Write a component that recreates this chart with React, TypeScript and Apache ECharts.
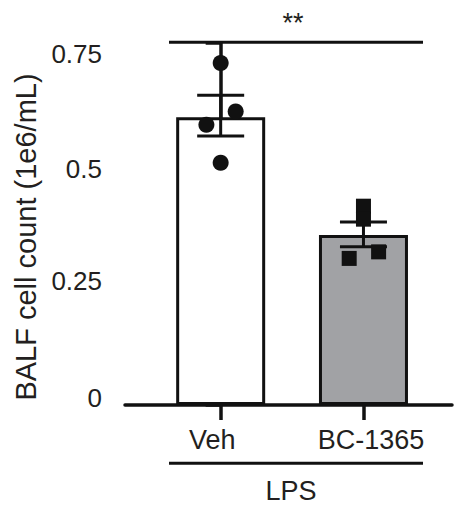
import React, { useEffect, useRef } from "react";
import * as echarts from "echarts";

// ---- data ----
const categories = ["Veh", "BC-1365"];
const groupLabel = "LPS";
const sigLabel = "**";
const yTitle = "BALF cell count (1e6/mL)";
const yTickLabels = ["0", "0.25", "0.5", "0.75"];
const barMeans = [0.596, 0.352];
const errLow = [0.5575, 0.3277];
const errHigh = [0.6417, 0.3794];
// [x position (category index + jitter), value]
const vehPoints = [
  [0, 0.7085],
  [0.105, 0.6081],
  [-0.1, 0.5806],
  [0, 0.5019],
];
const bcPoints = [
  [1, 0.4119],
  [1, 0.385],
  [0.9, 0.3037],
  [1.106, 0.3173],
];

// ---- style ----
const FONT = "'Liberation Sans', Arial, Helvetica, sans-serif";
const INK = "#111111";
const TEXT = "#231f20";
const GRAY = "#a1a2a5";
const barColors = ["#ffffff", GRAY];
// per-label vertical nudges (padding) for y tick labels, to mimic reference
const yLabelPad: Record<string, number[]> = {
  "0": [0, 0, 14, 0],
  "0.25": [0, 0, 6, 0],
  "0.5": [11, 0, 0, 0],
  "0.75": [22, 0, 0, 0],
};
const xLabelPad = [
  [0, 17, 0, 0],
  [0, 0, 0, 15],
];

export default function App() {
  const ref = useRef<HTMLDivElement>(null);
  useEffect(() => {
    if (!ref.current) return;
    const chart = echarts.init(ref.current, undefined, { renderer: "svg" });

    const yRich: Record<string, any> = {};
    yTickLabels.forEach((t, i) => {
      yRich["t" + i] = {
        fontSize: 26,
        fontFamily: FONT,
        color: TEXT,
        padding: yLabelPad[t],
      };
    });
    const xRich: Record<string, any> = {};
    categories.forEach((c, i) => {
      xRich["c" + i] = {
        fontSize: 27,
        fontFamily: FONT,
        color: TEXT,
        padding: xLabelPad[i],
      };
    });

    const option: any = {
      animation: false,
      backgroundColor: "#ffffff",
      grid: {
        left: 125,
        right: 2,
        top: 43,
        bottom: 100,
        containLabel: false,
        outerBoundsMode: "none",
      },
      xAxis: {
        type: "value",
        min: -0.67,
        max: 1.62,
        splitLine: { show: false },
        axisLine: { show: true, lineStyle: { color: INK, width: 3.5 } },
        axisTick: {
          show: true,
          customValues: [0, 1],
          length: 15,
          lineStyle: { color: INK, width: 3.5 },
        },
        axisLabel: {
          customValues: [0, 1],
          margin: 21,
          fontSize: 27,
          fontFamily: FONT,
          color: TEXT,
          formatter: (v: number) => {
            const i = Math.round(v);
            return `{c${i}|${categories[i]}}`;
          },
          rich: xRich,
        },
      },
      yAxis: {
        type: "value",
        min: 0,
        max: 0.75,
        interval: 0.25,
        splitLine: { show: false },
        axisLine: { show: true, lineStyle: { color: INK, width: 3.5 } },
        axisTick: { show: true, length: 15, lineStyle: { color: INK, width: 3.5 } },
        axisLabel: {
          margin: 23,
          fontSize: 26,
          fontFamily: FONT,
          color: TEXT,
          formatter: (v: number) => {
            const i = Math.round(v / 0.25);
            return `{t${i}|${yTickLabels[i]}}`;
          },
          rich: yRich,
        },
        name: yTitle,
        nameLocation: "middle",
        nameRotate: 90,
        nameGap: 85,
        nameTextStyle: {
          fontSize: 29,
          fontFamily: FONT,
          color: TEXT,
          padding: [0, 26, 0, 0],
        },
      },
      graphic: [
        {
          type: "line",
          shape: { x1: 169, y1: 42.3, x2: 423, y2: 42.3 },
          style: { stroke: INK, lineWidth: 3 },
        },
        {
          type: "text",
          x: 293,
          y: 23,
          style: {
            text: sigLabel,
            fontSize: 27,
            fontFamily: FONT,
            fill: TEXT,
            align: "center",
            verticalAlign: "middle",
          },
        },
        {
          type: "line",
          shape: { x1: 169, y1: 463.3, x2: 423, y2: 463.3 },
          style: { stroke: INK, lineWidth: 3 },
        },
        {
          type: "text",
          x: 291,
          y: 490.5,
          style: {
            text: groupLabel,
            fontSize: 27,
            fontFamily: FONT,
            fill: TEXT,
            align: "center",
            verticalAlign: "middle",
          },
        },
      ],
      series: [
        {
          type: "bar",
          barWidth: 89,
          data: barMeans.map((m, i) => ({
            value: [i, m],
            itemStyle: {
              color: barColors[i],
              borderColor: INK,
              borderWidth: 3,
            },
          })),
          z: 2,
        },
        {
          type: "custom",
          data: categories.map((_, i) => [i, errLow[i], errHigh[i]]),
          encode: { x: 0, y: [1, 2] },
          renderItem: (_params: any, api: any) => {
            const x = api.value(0);
            const lo = api.coord([x, api.value(1)]);
            const hi = api.coord([x, api.value(2)]);
            const hw = 23.5;
            const st = { stroke: INK, lineWidth: 3 };
            return {
              type: "group",
              children: [
                { type: "line", shape: { x1: lo[0], y1: lo[1], x2: hi[0], y2: hi[1] }, style: st },
                { type: "line", shape: { x1: lo[0] - hw, y1: lo[1], x2: lo[0] + hw, y2: lo[1] }, style: st },
                { type: "line", shape: { x1: hi[0] - hw, y1: hi[1], x2: hi[0] + hw, y2: hi[1] }, style: st },
              ],
            };
          },
          z: 3,
        },
        {
          type: "scatter",
          symbol: "circle",
          symbolSize: 16,
          itemStyle: { color: INK, opacity: 1 },
          data: vehPoints,
          z: 4,
        },
        {
          type: "scatter",
          symbol: "rect",
          symbolSize: 15,
          itemStyle: { color: INK, opacity: 1 },
          data: bcPoints,
          z: 4,
        },
      ],
    };
    chart.setOption(option);
    return () => chart.dispose();
  }, []);
  return (
    <div
      ref={ref}
      style={{ position: "absolute", left: 0, top: 0, width: 454, height: 505 }}
    />
  );
}
